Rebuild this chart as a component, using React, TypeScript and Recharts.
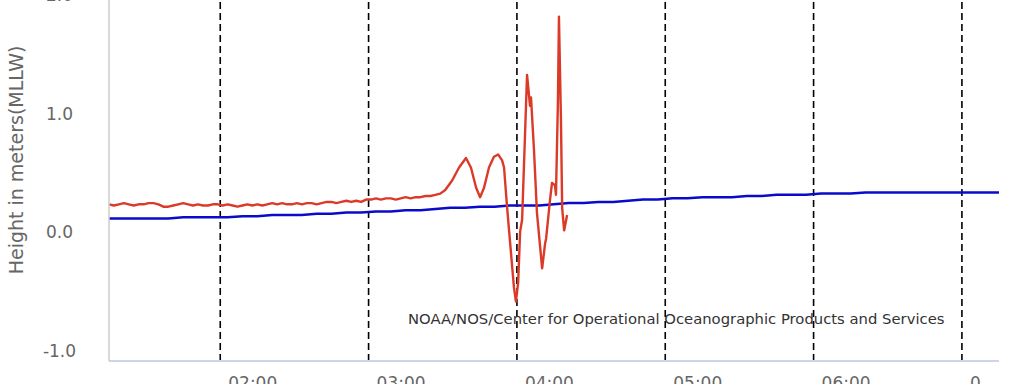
import React from "react";
import { LineChart, Line, XAxis, YAxis, CartesianGrid, ReferenceLine, Label } from "recharts";

// Time in minutes since 00:00
const obsTime: number[] = [
  75, 77, 79, 81, 83, 85, 87, 89, 91, 93, 95, 97, 99, 101, 103, 105, 107, 109, 111, 113,
  115, 117, 119, 121, 123, 125, 127, 129, 131, 133, 135, 137, 139, 141, 143,
  145, 147, 149, 151, 153, 155, 157, 159, 161, 163, 165, 167, 169, 171, 173, 175, 177,
  179, 181, 183, 185, 187, 189, 191, 193, 195, 197, 199, 201, 203, 205, 207, 209, 211,
  213.8, 216.6, 219.4, 221.4, 223.5, 225.1, 226.7, 228.7, 230.7, 232.4, 234.0, 234.8,
  236.0, 237.6, 238.8, 239.6, 240.5, 241.3, 242.1, 243.3, 244.1, 245.3, 245.7, 246.9,
  248.1, 250.2, 251.4, 251.8, 253.4, 254.2, 255.4, 255.8, 256.6, 257.0, 257.8, 258.3,
  259.1, 260.3,
];
const obsLevel: number[] = [
  0.22, 0.21, 0.22, 0.23, 0.22, 0.21, 0.22, 0.22, 0.23, 0.23, 0.22, 0.2, 0.2, 0.21, 0.22, 0.23, 0.22, 0.21, 0.22, 0.21,
  0.21, 0.22, 0.22, 0.21, 0.22, 0.21, 0.2, 0.21, 0.22, 0.21, 0.22, 0.21, 0.22, 0.23, 0.22,
  0.23, 0.22, 0.22, 0.23, 0.22, 0.23, 0.23, 0.22, 0.23, 0.24, 0.24, 0.23, 0.24, 0.25, 0.24, 0.25, 0.24,
  0.26, 0.26, 0.27, 0.26, 0.27, 0.27, 0.26, 0.27, 0.28, 0.27, 0.28, 0.28, 0.29, 0.29, 0.3, 0.31, 0.34,
  0.42, 0.53, 0.61, 0.53, 0.36, 0.28, 0.36, 0.53, 0.62, 0.64, 0.59, 0.53,
  0.2, -0.19, -0.48, -0.6, -0.44, -0.01, 0.09, 0.82, 1.31, 1.05, 1.12, 0.68,
  0.15, -0.32, -0.11, -0.07, 0.26, 0.4, 0.38, 0.3, 1.1, 1.8, 0.95, 0.19,
  0.0, 0.13,
];

const predTime: number[] = [
  75, 81, 87, 93, 99, 105, 111, 117, 123, 129, 135, 141, 147, 153, 159, 165, 171, 177, 183, 189,
  195, 201, 207, 213, 219, 225, 231, 237, 243, 249, 255, 261, 267, 273, 279, 285, 291, 297, 303, 309,
  315, 321, 327, 333, 339, 345, 351, 357, 363, 369, 375, 381, 387, 393, 399, 405, 411, 417, 423, 429, 435,
];
const predLevel: number[] = [
  0.1, 0.1, 0.1, 0.1, 0.1, 0.11, 0.11, 0.11, 0.11, 0.12, 0.12, 0.13, 0.13, 0.13, 0.14, 0.14, 0.15, 0.15, 0.16, 0.16,
  0.17, 0.17, 0.18, 0.19, 0.19, 0.2, 0.2, 0.21, 0.21, 0.21, 0.22, 0.23, 0.23, 0.24, 0.24, 0.25, 0.26, 0.26, 0.27, 0.27,
  0.28, 0.28, 0.28, 0.29, 0.29, 0.3, 0.3, 0.3, 0.31, 0.31, 0.31, 0.32, 0.32, 0.32, 0.32, 0.32, 0.32, 0.32, 0.32, 0.32, 0.32,
];

const xTicks: number[] = [120, 180, 240, 300, 360, 420];
const xTickLabels: string[] = ["02:00", "03:00", "04:00", "05:00", "06:00", "0"];
const yTicks: number[] = [-1, 0, 1, 2];

const obsData = obsTime.map((t, i) => ({ t, v: obsLevel[i] }));
const predData = predTime.map((t, i) => ({ t, v: predLevel[i] }));

const FONT = "'DejaVu Sans', Verdana, sans-serif";

const XTick = (props: any) => {
  const { x, y, payload } = props;
  const idx = xTicks.indexOf(payload.value);
  return (
    <text x={x + 8} y={y + 20} textAnchor="start" fill="#666" fontSize={17} fontFamily={FONT}>
      {idx >= 0 ? xTickLabels[idx] : ""}
    </text>
  );
};

const YTick = (props: any) => {
  const { y, payload } = props;
  return (
    <text x={59.5} y={y + 2} textAnchor="middle" dominantBaseline="central" fill="#666" fontSize={17} fontFamily={FONT}>
      {payload.value.toFixed(1)}
    </text>
  );
};

const YTitle = () => (
  <text
    x={16}
    y={190}
    transform="rotate(-90, 16, 190)"
    textAnchor="middle"
    dominantBaseline="central"
    fill="#666"
    fontSize={19}
    fontFamily={FONT}
  >
    Height in meters(MLLW)
  </text>
);

export default function App() {
  return (
    <div style={{ position: "absolute", left: 0, top: -30, width: 1024, height: 431, background: "#fff" }}>
      <LineChart width={1024} height={431} margin={{ top: 23, right: 25, bottom: 0, left: 0 }}>
        <CartesianGrid vertical={false} stroke="#e3e3e3" strokeWidth={1.2} />
        <XAxis
          type="number"
          dataKey="t"
          domain={[75, 435]}
          ticks={xTicks}
          allowDataOverflow
          height={40}
          tickLine={false}
          axisLine={{ stroke: "#ccd6eb", strokeWidth: 2 }}
          tick={<XTick />}
        />
        <YAxis
          yAxisId="l"
          type="number"
          domain={[-1.1, 2]}
          ticks={yTicks}
          allowDataOverflow
          width={109}
          tickLine={false}
          axisLine={{ stroke: "#cccccc", strokeWidth: 1.5 }}
          tick={<YTick />}
        >
          <Label content={<YTitle />} />
        </YAxis>
        <YAxis
          yAxisId="r"
          orientation="right"
          type="number"
          domain={[-1.1, 2]}
          width={0}
          tick={false}
          tickLine={false}
          axisLine={{ stroke: "#cccccc", strokeWidth: 2 }}
        />
        {xTicks.map((t) => (
          <ReferenceLine
            key={t}
            yAxisId="l"
            x={t}
            stroke="#000"
            strokeWidth={1.6}
            strokeDasharray="7 4"
          />
        ))}
        <Line
          yAxisId="l"
          data={predData}
          dataKey="v"
          type="linear"
          stroke="#0a0acc"
          strokeWidth={2.5}
          dot={false}
          isAnimationActive={false}
        />
        <Line
          yAxisId="l"
          data={obsData}
          dataKey="v"
          type="linear"
          stroke="#dc3a28"
          strokeWidth={2.4}
          strokeLinejoin="round"
          dot={false}
          isAnimationActive={false}
        />
      </LineChart>
      <div
        style={{
          position: "absolute",
          left: 408,
          top: 30 + 309,
          fontFamily: FONT,
          fontSize: 14.8,
          color: "#333",
          whiteSpace: "nowrap",
          lineHeight: "20px",
        }}
      >
        NOAA/NOS/Center for Operational Oceanographic Products and Services
      </div>
    </div>
  );
}
